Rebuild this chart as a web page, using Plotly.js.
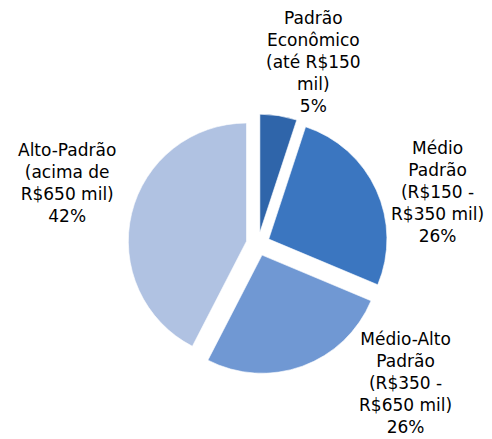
<!DOCTYPE html>
<html>
<head>
<meta charset="utf-8">
<script src="https://cdn.plot.ly/plotly-3.0.1.min.js"></script>
<style>html,body{margin:0;padding:0;background:#fff;}#chart{width:492px;height:439px;}</style>
</head>
<body>
<div id="chart"></div>
<script>
const categories = [
  "Padrão<br>Econômico<br>(até R$150<br>mil)",
  "Médio<br>Padrão<br>(R$150 -<br>R$350 mil)",
  "Médio-Alto<br>Padrão<br>(R$350 -<br>R$650 mil)",
  "Alto-Padrão<br>(acima de<br>R$650 mil)"
];
const values = [5, 26, 26, 42];
const colors = ["#2F65AA", "#3B76C0", "#7098D3", "#B0C2E2"];
const pulls = [0.1, 0.1, 0.1, 0.1];
// label anchor positions (paper fractions)
const labelX = [313 / 492, 437 / 492, 405 / 492, 67 / 492];
const labelY = [1 - 62 / 439, 1 - 192 / 439, 1 - 383 / 439, 1 - 183 / 439];

const total = values.reduce((a, b) => a + b, 0);
const annotations = categories.map((c, i) => ({
  xref: 'paper', yref: 'paper',
  x: labelX[i], y: labelY[i],
  xanchor: 'center', yanchor: 'middle',
  align: 'center', showarrow: false,
  text: c + '<br>' + Math.round(values[i] / total * 100) + '%',
  font: {family: 'DejaVu Sans, Verdana, sans-serif', size: 17, color: '#000'}
}));

Plotly.newPlot('chart', [{
  type: 'pie',
  labels: categories,
  values: values,
  sort: false,
  direction: 'clockwise',
  rotation: 0,
  pull: pulls,
  marker: {colors: colors, line: {color: 'rgba(255,255,255,0.6)', width: 1}},
  textinfo: 'none',
  showlegend: false,
  hoverinfo: 'label+percent',
  domain: {x: [128 / 492, 388 / 492], y: [1 - 374 / 439, 1 - 114 / 439]}
}], {
  width: 492, height: 439,
  margin: {l: 0, r: 0, t: 0, b: 0},
  paper_bgcolor: '#fff',
  annotations: annotations,
  font: {family: 'DejaVu Sans, Verdana, sans-serif', size: 17, color: '#000'}
}, {displayModeBar: false, staticPlot: true});
</script>
</body>
</html>
